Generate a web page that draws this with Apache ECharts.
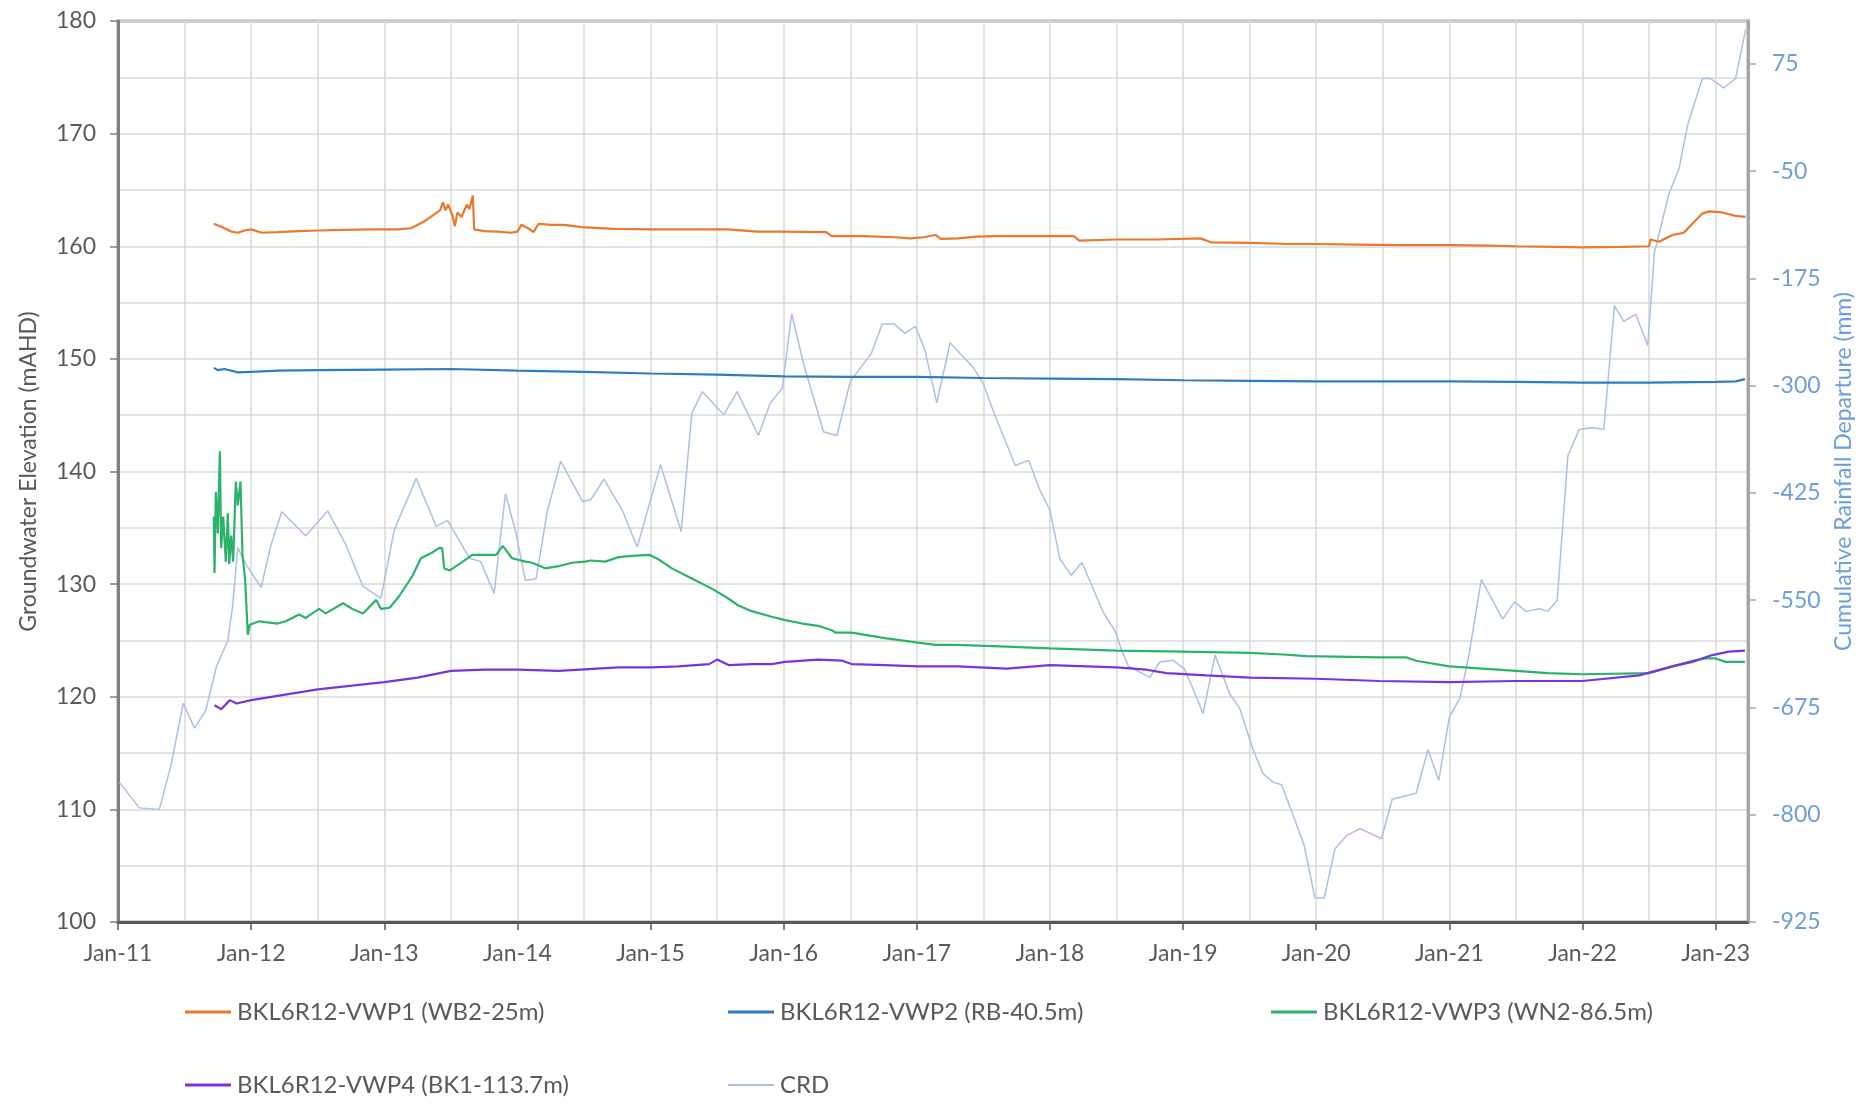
<!DOCTYPE html>
<html>
<head>
<meta charset="utf-8">
<script src="https://cdn.jsdelivr.net/npm/echarts@6/dist/echarts.min.js"></script>
<style>
html,body{margin:0;padding:0;background:#fff;}
#chart{width:1876px;height:1105px;}
</style>
</head>
<body>
<div id="chart"></div>
<script>
// ---- data (x = decimal year) ----
var seriesNames = ['BKL6R12-VWP1 (WB2-25m)', 'BKL6R12-VWP2 (RB-40.5m)', 'BKL6R12-VWP3 (WN2-86.5m)', 'BKL6R12-VWP4 (BK1-113.7m)', 'CRD'];
var xTickYears = [2011, 2012, 2013, 2014, 2015, 2016, 2017, 2018, 2019, 2020, 2021, 2022, 2023];
var xTickLabels = ['Jan-11', 'Jan-12', 'Jan-13', 'Jan-14', 'Jan-15', 'Jan-16', 'Jan-17', 'Jan-18', 'Jan-19', 'Jan-20', 'Jan-21', 'Jan-22', 'Jan-23'];
var rightTicks = [-925, -800, -675, -550, -425, -300, -175, -50, 75];

var vwp1 = [[2011.72,162.0],[2011.78,161.7],[2011.85,161.3],[2011.9,161.2],[2011.95,161.4],[2012.0,161.5],[2012.08,161.2],[2012.2,161.25],[2012.35,161.35],[2012.5,161.4],[2012.7,161.45],[2012.9,161.5],[2013.1,161.5],[2013.2,161.6],[2013.3,162.2],[2013.36,162.7],[2013.42,163.2],[2013.44,163.9],[2013.46,163.2],[2013.48,163.7],[2013.51,162.8],[2013.53,161.8],[2013.55,163.0],[2013.58,162.6],[2013.62,163.7],[2013.64,163.3],[2013.665,164.5],[2013.675,161.5],[2013.75,161.35],[2013.85,161.3],[2013.95,161.2],[2014.0,161.3],[2014.03,161.9],[2014.08,161.6],[2014.12,161.25],[2014.16,162.0],[2014.25,161.9],[2014.35,161.9],[2014.48,161.7],[2014.72,161.55],[2015.0,161.5],[2015.3,161.5],[2015.58,161.5],[2015.8,161.3],[2016.0,161.3],[2016.32,161.25],[2016.36,160.9],[2016.6,160.9],[2016.84,160.8],[2016.95,160.7],[2017.05,160.8],[2017.14,161.0],[2017.18,160.65],[2017.31,160.7],[2017.45,160.85],[2017.6,160.9],[2017.9,160.9],[2018.18,160.9],[2018.22,160.5],[2018.5,160.6],[2018.8,160.6],[2019.13,160.7],[2019.21,160.35],[2019.5,160.3],[2019.8,160.2],[2020.0,160.2],[2020.3,160.15],[2020.6,160.1],[2021.0,160.1],[2021.3,160.05],[2021.5,160.0],[2021.8,159.95],[2022.0,159.9],[2022.3,159.95],[2022.5,160.0],[2022.51,160.6],[2022.575,160.4],[2022.675,161.0],[2022.76,161.2],[2022.825,162.0],[2022.9,162.9],[2022.95,163.1],[2023.05,163.0],[2023.15,162.7],[2023.225,162.6]];

var vwp2 = [[2011.72,149.2],[2011.75,149.0],[2011.8,149.1],[2011.9,148.8],[2012.0,148.85],[2012.2,148.95],[2012.5,149.0],[2013.0,149.05],[2013.5,149.1],[2014.0,148.95],[2014.5,148.85],[2015.0,148.7],[2015.5,148.6],[2016.0,148.45],[2016.5,148.4],[2017.0,148.4],[2017.5,148.3],[2018.0,148.25],[2018.5,148.2],[2019.0,148.1],[2019.5,148.05],[2020.0,148.0],[2020.5,148.0],[2021.0,148.0],[2021.5,147.95],[2022.0,147.9],[2022.5,147.9],[2023.0,147.95],[2023.15,148.0],[2023.22,148.2]];

var vwp3 = [[2011.72,136.0],[2011.725,131.0],[2011.735,138.2],[2011.75,134.5],[2011.765,141.8],[2011.775,133.2],[2011.79,136.0],[2011.81,132.0],[2011.825,136.3],[2011.835,131.8],[2011.85,134.3],[2011.865,132.0],[2011.885,139.1],[2011.9,137.0],[2011.92,139.1],[2011.935,132.6],[2011.955,130.4],[2011.975,125.5],[2011.99,126.4],[2012.06,126.7],[2012.2,126.5],[2012.26,126.7],[2012.36,127.3],[2012.41,127.0],[2012.51,127.8],[2012.56,127.4],[2012.69,128.3],[2012.76,127.8],[2012.84,127.4],[2012.94,128.6],[2012.975,127.8],[2013.04,127.9],[2013.11,128.9],[2013.21,130.7],[2013.275,132.3],[2013.36,132.8],[2013.41,133.2],[2013.435,133.2],[2013.45,131.4],[2013.49,131.2],[2013.59,132.0],[2013.66,132.6],[2013.84,132.6],[2013.89,133.4],[2013.96,132.3],[2014.06,132.0],[2014.11,131.9],[2014.21,131.4],[2014.31,131.6],[2014.41,131.9],[2014.51,132.0],[2014.55,132.1],[2014.66,132.0],[2014.76,132.4],[2014.86,132.5],[2014.99,132.6],[2015.06,132.2],[2015.16,131.4],[2015.31,130.5],[2015.46,129.6],[2015.56,128.9],[2015.66,128.1],[2015.76,127.6],[2015.91,127.1],[2016.01,126.8],[2016.14,126.5],[2016.26,126.3],[2016.36,125.9],[2016.39,125.7],[2016.51,125.7],[2016.76,125.2],[2017.01,124.8],[2017.14,124.6],[2017.3,124.6],[2017.675,124.45],[2018.0,124.3],[2018.5,124.1],[2019.0,124.0],[2019.5,123.9],[2019.75,123.75],[2019.925,123.6],[2020.475,123.5],[2020.675,123.5],[2020.75,123.2],[2021.0,122.7],[2021.25,122.5],[2021.5,122.3],[2021.74,122.1],[2022.0,122.0],[2022.5,122.1],[2022.675,122.7],[2022.825,123.2],[2022.925,123.4],[2023.0,123.4],[2023.075,123.1],[2023.22,123.1]];

var vwp4 = [[2011.725,119.25],[2011.775,118.9],[2011.84,119.7],[2011.89,119.4],[2012.0,119.7],[2012.5,120.65],[2013.0,121.3],[2013.25,121.7],[2013.5,122.3],[2013.75,122.4],[2014.0,122.4],[2014.31,122.3],[2014.76,122.6],[2015.0,122.6],[2015.21,122.7],[2015.44,122.9],[2015.5,123.3],[2015.59,122.8],[2015.76,122.9],[2015.91,122.9],[2016.01,123.1],[2016.26,123.3],[2016.44,123.2],[2016.51,122.9],[2016.76,122.8],[2017.01,122.7],[2017.31,122.7],[2017.675,122.5],[2018.0,122.8],[2018.5,122.6],[2018.725,122.4],[2018.875,122.1],[2019.175,121.9],[2019.5,121.7],[2020.0,121.6],[2020.475,121.4],[2021.0,121.3],[2021.5,121.4],[2022.0,121.4],[2022.425,121.9],[2022.675,122.7],[2022.825,123.1],[2022.975,123.7],[2023.1,124.0],[2023.22,124.1]];

var crd = [[2011.01,-762],[2011.16,-792],[2011.31,-794],[2011.40,-741],[2011.49,-670],[2011.575,-699],[2011.66,-678],[2011.74,-627],[2011.825,-597],[2011.86,-558],[2011.90,-489],[2011.96,-508],[2012.075,-535],[2012.15,-485],[2012.23,-447],[2012.41,-475],[2012.575,-446],[2012.71,-485],[2012.84,-534],[2012.975,-548],[2013.075,-468],[2013.24,-408],[2013.39,-464],[2013.475,-457],[2013.64,-501],[2013.725,-505],[2013.825,-542],[2013.91,-426],[2013.99,-472],[2014.06,-527],[2014.14,-525],[2014.225,-446],[2014.325,-388],[2014.49,-435],[2014.55,-433],[2014.65,-409],[2014.79,-446],[2014.9,-488],[2015.075,-392],[2015.23,-470],[2015.31,-332],[2015.39,-307],[2015.55,-334],[2015.65,-307],[2015.81,-358],[2015.9,-320],[2015.99,-303],[2016.06,-216],[2016.15,-275],[2016.3,-354],[2016.4,-358],[2016.5,-295],[2016.66,-262],[2016.74,-228],[2016.83,-228],[2016.91,-239],[2016.99,-231],[2017.06,-258],[2017.15,-320],[2017.25,-250],[2017.425,-279],[2017.5,-298],[2017.575,-330],[2017.74,-393],[2017.84,-387],[2017.925,-422],[2018.0,-445],[2018.075,-502],[2018.16,-521],[2018.24,-506],[2018.4,-564],[2018.49,-586],[2018.54,-609],[2018.59,-627],[2018.75,-640],[2018.825,-622],[2018.925,-620],[2019.01,-630],[2019.09,-659],[2019.15,-682],[2019.24,-614],[2019.35,-659],[2019.425,-676],[2019.525,-724],[2019.6,-752],[2019.675,-762],[2019.74,-765],[2019.825,-800],[2019.91,-836],[2019.99,-897],[2020.06,-897],[2020.14,-840],[2020.23,-824],[2020.33,-816],[2020.49,-828],[2020.57,-782],[2020.75,-775],[2020.84,-724],[2020.92,-760],[2021.0,-686],[2021.08,-664],[2021.15,-611],[2021.24,-526],[2021.4,-572],[2021.49,-552],[2021.575,-563],[2021.675,-560],[2021.74,-563],[2021.81,-550],[2021.89,-382],[2021.975,-351],[2022.075,-349],[2022.16,-351],[2022.24,-207],[2022.31,-225],[2022.4,-217],[2022.49,-253],[2022.54,-145],[2022.65,-76],[2022.725,-47],[2022.79,4],[2022.9,58],[2022.96,58],[2023.06,47],[2023.15,58],[2023.225,115]];

// ---- chart ----
var FONT = 'Lato';
var chart = echarts.init(document.getElementById('chart'), null, {renderer: 'canvas'});
var colors = ['#E8792D', '#2F7DC1', '#2BB36B', '#7A35D9', '#A9C1E6'];
var seriesData = [vwp1, vwp2, vwp3, vwp4, crd];
var legendPos = [[185, 1000], [728, 1000], [1271, 1000], [185, 1073], [728, 1073]];

var legends = seriesNames.map(function (n, i) {
  return {
    data: [n], left: legendPos[i][0], top: legendPos[i][1], padding: 0,
    icon: 'rect', itemWidth: 46, itemHeight: i === 4 ? 2 : 3, itemGap: 0,
    textStyle: {fontFamily: FONT, fontSize: 24, color: '#595959', padding: [0, 0, 0, 1]}
  };
});

var series = seriesNames.map(function (n, i) {
  return {
    name: n, type: 'line', data: seriesData[i], yAxisIndex: i === 4 ? 1 : 0,
    showSymbol: false, symbol: 'none', animation: false,
    lineStyle: {color: colors[i], width: i === 4 ? 1.5 : 2.2},
    itemStyle: {color: colors[i]},
    z: i === 4 ? 1 : 3
  };
});

var option = {
  backgroundColor: '#ffffff',
  animation: false,
  textStyle: {fontFamily: FONT},
  grid: {left: 118, right: 128, top: 21, bottom: 183, show: true, borderColor: '#A6A6A6', borderWidth: 3, containLabel: false},
  legend: legends,
  xAxis: {
    type: 'value', min: 2011, max: 2023.243, interval: 1,
    axisLine: {show: true, onZero: false, lineStyle: {color: '#595959', width: 3}},
    axisTick: {show: true, customValues: xTickYears, length: 8, lineStyle: {color: '#595959', width: 1.5}},
    axisLabel: {customValues: xTickYears, color: '#595959', fontFamily: FONT, fontSize: 23, margin: 20,
      formatter: function (v) { var k = xTickYears.indexOf(Math.round(v)); return k >= 0 ? xTickLabels[k] : ''; }},
    splitLine: {show: true, lineStyle: {color: '#D9D9D9', width: 1.5}},
    minorTick: {show: false, splitNumber: 2},
    minorSplitLine: {show: true, lineStyle: {color: '#D9D9D9', width: 1.5}}
  },
  yAxis: [{
    type: 'value', min: 100, max: 180, interval: 10, position: 'left',
    name: 'Groundwater Elevation (mAHD)', nameLocation: 'middle', nameGap: 78,
    nameTextStyle: {color: '#595959', fontFamily: FONT, fontSize: 23},
    axisLine: {show: true, onZero: false, lineStyle: {color: '#7F7F7F', width: 3}},
    axisTick: {show: true, length: 8, lineStyle: {color: '#7F7F7F', width: 1.5}},
    axisLabel: {color: '#595959', fontFamily: FONT, fontSize: 23, margin: 22},
    splitLine: {show: true, lineStyle: {color: '#D9D9D9', width: 1.5}},
    minorTick: {show: false, splitNumber: 2},
    minorSplitLine: {show: true, lineStyle: {color: '#D9D9D9', width: 1.5}}
  }, {
    type: 'value', min: -925, max: 125, position: 'right',
    name: 'Cumulative Rainfall Departure (mm)', nameLocation: 'middle', nameGap: 84,
    nameTextStyle: {color: '#6D9EDB', fontFamily: FONT, fontSize: 23},
    axisLine: {show: true, onZero: false, lineStyle: {color: '#A6A6A6', width: 3}},
    axisTick: {show: true, customValues: rightTicks, length: 8, lineStyle: {color: '#A6A6A6', width: 1.5}},
    axisLabel: {customValues: rightTicks, color: '#6D9EDB', fontFamily: FONT, fontSize: 23, margin: 24},
    splitLine: {show: false}
  }],
  series: series
};
chart.setOption(option);
</script>
</body>
</html>
